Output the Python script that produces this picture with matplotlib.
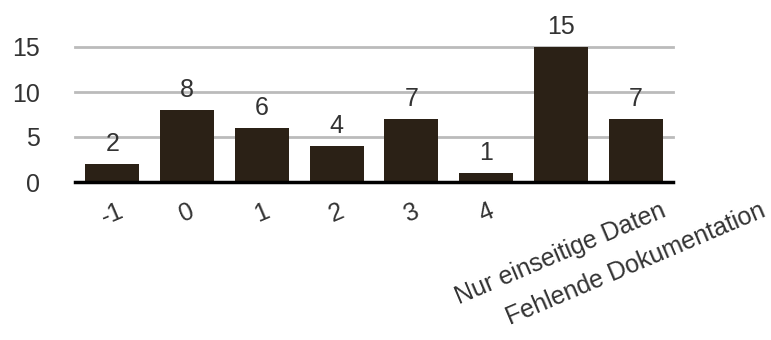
import matplotlib
matplotlib.use("Agg")
import matplotlib.pyplot as plt
import numpy as np

categories = ["-1", "0", "1", "2", "3", "4", "Nur einseitige Daten", "Fehlende Dokumentation"]
counts = [2, 8, 6, 4, 7, 1, 15, 7]
y_ticks = [0, 5, 10, 15]

plt.rcParams["font.family"] = ["Liberation Sans", "DejaVu Sans"]
TEXT = "#333333"
FS = 18

fig = plt.figure(figsize=(7.71, 3.40), dpi=100)
ax = fig.add_axes([75 / 771, 158 / 340, 598 / 771, 135 / 340])

x = np.arange(len(categories))
ax.bar(x, counts, width=0.72, color="#2b2116", zorder=3)

for xi, v in zip(x, counts):
    ax.annotate(str(v), (xi, v), xytext=(0, 6), textcoords="offset points",
                ha="center", va="bottom", fontsize=FS,
                color=TEXT, annotation_clip=False)

ax.set_xlim(-0.5, len(categories) - 0.5)
ax.set_ylim(0, 15)
ax.set_yticks(y_ticks)
ax.set_yticklabels([str(t) for t in y_ticks], fontsize=FS, color=TEXT)
ax.set_xticks(x)
ax.set_xticklabels(categories, rotation=23, ha="center", va="top",
                   fontsize=FS, color=TEXT)
ax.tick_params(axis="x", length=0, pad=12)
ax.tick_params(axis="y", length=0, pad=25)

for t in y_ticks[1:]:
    ax.axhline(t, color="#bbbbbb", linewidth=2, zorder=1, clip_on=False)

for s in ["top", "right", "left"]:
    ax.spines[s].set_visible(False)
ax.spines["bottom"].set_linewidth(2.5)
ax.spines["bottom"].set_color("black")
ax.spines["bottom"].set_zorder(4)

fig.savefig("out.png", dpi=100)
